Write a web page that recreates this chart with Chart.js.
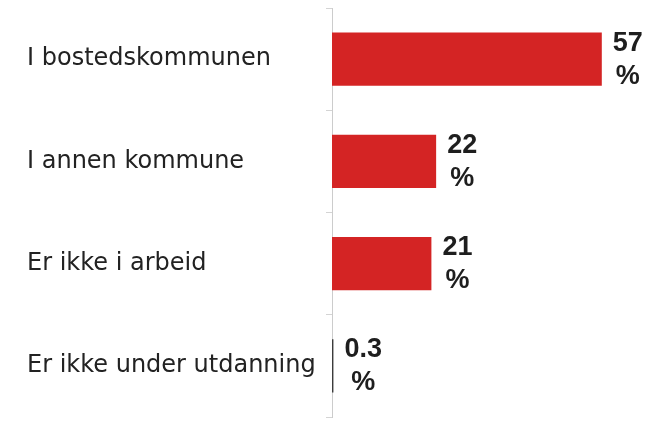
<!DOCTYPE html>
<html>
<head>
<meta charset="utf-8">
<script src="https://cdn.jsdelivr.net/npm/chart.js@4/dist/chart.umd.min.js"></script>
<style>
  body { margin: 0; background: #fff; }
  canvas { display: block; }
</style>
</head>
<body>
<canvas id="grafica" width="647" height="421"></canvas>
<script>
const categorias = ['I bostedskommunen', 'I annen kommune', 'Er ikke i arbeid', 'Er ikke under utdanning'];
const valores = [57, 22, 21, 0.3];
const etiquetas = ['57', '22', '21', '0.3'];
const colores = ['#d42424', '#d42424', '#d42424', '#3c3c3c'];

// escribe "57" y "%" en dos lineas a la derecha de cada barra
const etiquetasBarras = {
    id: 'etiquetasBarras',
    afterDatasetsDraw(chart){
        let ctx = chart.ctx;
        let meta = chart.getDatasetMeta(0);
        ctx.save();
        ctx.font = "bold 27px 'Liberation Sans', Arial, sans-serif";
        ctx.fillStyle = '#1e1e1e';
        ctx.textAlign = 'center';
        ctx.textBaseline = 'middle';
        for(var i = 0; i < meta.data.length; i++){
            let barra = meta.data[i];
            let w = Math.max(ctx.measureText(etiquetas[i]).width, ctx.measureText('%').width);
            let x = barra.x + 11 + w / 2;
            ctx.fillText(etiquetas[i], x, barra.y - 16);
            ctx.fillText('%', x, barra.y + 17);
        }
        ctx.restore();
    }
};

let myChart = new Chart(document.getElementById('grafica'), {
    type: 'bar',
    data: {
        labels: categorias,
        datasets: [{
            data: valores,
            backgroundColor: colores,
            borderWidth: 0,
            barPercentage: 0.52,
            categoryPercentage: 1
        }]
    },
    options: {
        indexAxis: 'y',
        responsive: false,
        animation: false,
        layout: {
            padding: { left: 27, right: 31, top: 8, bottom: 4 }
        },
        plugins: {
            legend: { display: false },
            tooltip: { enabled: false }
        },
        scales: {
            x: {
                display: false,
                min: 0,
                max: 60
            },
            y: {
                afterFit: function(scale){
                    scale.width = 305;
                    scale.paddingTop = 0;
                    scale.paddingBottom = 0;
                },
                grid: {
                    drawOnChartArea: false,
                    tickLength: 6,
                    color: '#d4d4d4',
                    offset: true
                },
                border: { display: true, color: '#cccccc' },
                ticks: {
                    crossAlign: 'far',
                    color: '#222222',
                    font: { family: "'DejaVu Sans', sans-serif", size: 24 }
                }
            }
        }
    },
    plugins: [etiquetasBarras]
});
</script>
</body>
</html>
